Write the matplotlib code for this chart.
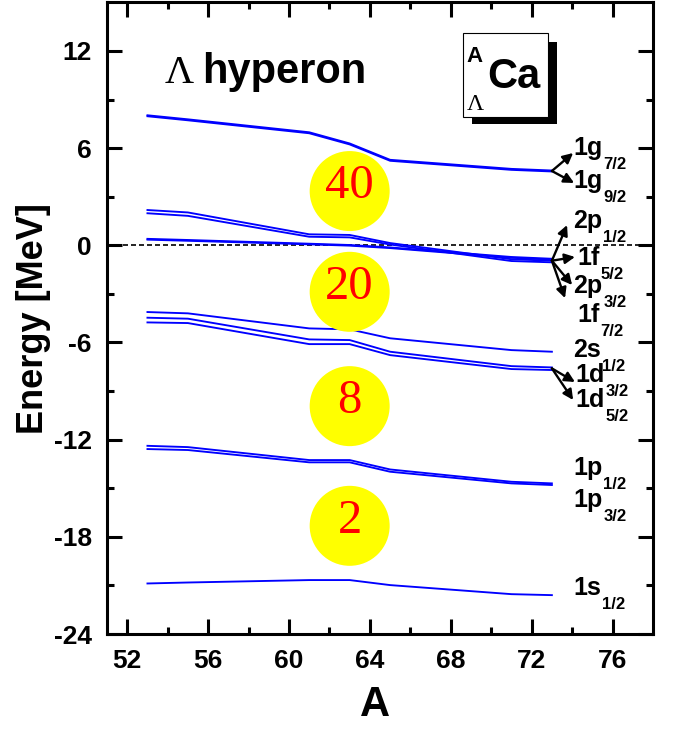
import matplotlib
matplotlib.use("Agg")
import matplotlib.pyplot as plt
from matplotlib.patches import Rectangle

plt.rcParams['font.family'] = ['Liberation Sans', 'DejaVu Sans']
plt.rcParams['font.weight'] = 'bold'

# ---------------- data ----------------
A = [53, 55, 61, 63, 65, 71, 73]

E_1g72 = [8.03, 7.78, 6.98, 6.29, 5.28, 4.72, 4.62]
E_1g92 = [7.97, 7.72, 6.92, 6.23, 5.22, 4.66, 4.56]
E_2p12 = [2.18, 2.03, 0.68, 0.64, 0.14, -0.86, -0.95]
E_2p32 = [1.98, 1.82, 0.53, 0.49, 0.05, -0.97, -1.05]
E_1f52 = [0.40, 0.33, 0.10, 0.02, -0.13, -0.72, -0.83]
E_1f72 = [0.35, 0.28, 0.06, -0.02, -0.17, -0.77, -0.88]
E_2s12 = [-4.12, -4.20, -5.13, -5.19, -5.74, -6.47, -6.57]
E_1d32 = [-4.47, -4.53, -5.81, -5.85, -6.57, -7.46, -7.54]
E_1d52 = [-4.76, -4.80, -6.10, -6.10, -6.78, -7.64, -7.70]
E_1p12 = [-12.38, -12.46, -13.26, -13.26, -13.84, -14.60, -14.70]
E_1p32 = [-12.58, -12.64, -13.40, -13.40, -13.98, -14.70, -14.80]
E_1s12 = [-20.88, -20.82, -20.67, -20.67, -20.98, -21.54, -21.60]

levels = [E_1g72, E_1g92, E_2p12, E_2p32, E_1f52, E_1f72,
          E_2s12, E_1d32, E_1d52, E_1p12, E_1p32, E_1s12]

magic_numbers = ['40', '20', '8', '2']
magic_A = [63, 63, 63, 63]
magic_E = [3.35, -2.87, -9.93, -17.32]

label_main = ['1g', '1g', '2p', '1f', '2p', '1f', '2s', '1d', '1d', '1p', '1p', '1s']
label_sub = ['7/2', '9/2', '1/2', '5/2', '3/2', '7/2', '1/2', '3/2', '5/2', '1/2', '3/2', '1/2']
# label anchor positions (layout)
label_x = [74.05, 74.05, 74.05, 74.25, 74.05, 74.25, 74.05, 74.15, 74.15, 74.05, 74.05, 74.05]
label_y = [5.58, 3.54, 1.07, -1.22, -2.95, -4.74, -6.92, -8.47, -10.01, -14.19, -16.17, -21.6]

xticks = [52, 56, 60, 64, 68, 72, 76]
yticks = [-24, -18, -12, -6, 0, 6, 12]

# ---------------- figure ----------------
fig = plt.figure(figsize=(6.74, 7.30), dpi=100)
ax = fig.add_axes([107/674, 1 - 634/730, 546/674, 631.6/730])

ax.axhline(0, color='black', lw=1.2, ls=(0, (3, 1.8)), zorder=1)

for E in levels:
    ax.plot(A, E, color='#0000ff', lw=1.35, zorder=2)

ax.scatter(magic_A, magic_E, s=3318, color='#ffff00', edgecolors='none', zorder=3)
for n, x, y in zip(magic_numbers, magic_A, magic_E):
    ax.text(x, y + 0.3, n, color='#ff0000', fontsize=35, fontweight='normal',
            family='Liberation Serif', ha='center', va='center', zorder=4)

# level labels with subscripts
for m, s, x, y in zip(label_main, label_sub, label_x, label_y):
    t = ax.text(x, y, m, fontsize=18, fontweight='bold', ha='left', va='baseline')
    ax.annotate(s, xy=(1, 0), xycoords=t, xytext=(1, -9), textcoords='offset pixels',
                fontsize=12, fontweight='bold', ha='left', va='baseline')

# arrows
def arrow(origin, tip):
    ax.annotate('', xy=tip, xytext=origin,
                arrowprops=dict(arrowstyle='-|>', color='black', lw=1.7,
                                mutation_scale=15, shrinkA=0, shrinkB=0))

o1 = (A[-1], E_1g72[-1] - 0.03)
arrow(o1, (74.05, 5.70))
arrow(o1, (74.1, 3.85))
o2 = (A[-1], -0.95)
arrow(o2, (73.75, 1.25))
arrow(o2, (74.14, -0.72))
arrow(o2, (74.0, -2.45))
arrow(o2, (73.65, -3.26))
o3 = (A[-1], -7.6)
arrow(o3, (74.14, -8.44))
arrow(o3, (74.05, -9.55))

# title
ax.text(0.106, 0.8724, 'Λ', transform=ax.transAxes, fontsize=29,
        family='Liberation Serif', fontweight='normal', ha='left', va='baseline')
ax.text(0.174, 0.8724, 'hyperon', transform=ax.transAxes, fontsize=30,
        fontweight='bold', ha='left', va='baseline')

# nucleus box with shadow
ax.add_patch(Rectangle((0.6685, 0.8075), 0.824 - 0.6685, 0.937 - 0.8075,
                       transform=ax.transAxes, facecolor='black', edgecolor='none', zorder=5))
ax.add_patch(Rectangle((0.652, 0.8186), 0.808 - 0.652, 0.9516 - 0.8186,
                       transform=ax.transAxes, facecolor='white', edgecolor='black',
                       lw=0.8, zorder=6))
ax.text(0.659, 0.9056, 'A', transform=ax.transAxes, fontsize=16, fontweight='bold',
        ha='left', va='baseline', zorder=7)
ax.text(0.696, 0.8645, 'Ca', transform=ax.transAxes, fontsize=30, fontweight='bold',
        ha='left', va='baseline', zorder=7)
ax.text(0.659, 0.8296, 'Λ', transform=ax.transAxes, fontsize=17, fontweight='normal',
        family='Liberation Serif', ha='left', va='baseline', zorder=7)

# axes
ax.set_xlim(51, 78)
ax.set_ylim(-24, 15)
ax.set_xticks(xticks)
ax.set_yticks(yticks)
ax.set_xticks(range(54, 78, 4), minor=True)
ax.set_yticks(range(-21, 15, 6), minor=True)
ax.set_xticklabels([str(v) for v in xticks])
ax.set_yticklabels([str(v) for v in yticks])
ax.tick_params(which='both', direction='in', top=True, right=True, width=2.2,
               labelsize=19, pad=11)
ax.tick_params(which='major', length=11)
ax.tick_params(which='minor', length=5)
for sp in ax.spines.values():
    sp.set_linewidth(2.2)

ax.set_xlabel('A', fontsize=30, fontweight='bold')
ax.set_ylabel('Energy [MeV]', fontsize=26, fontweight='bold')
ax.xaxis.set_label_coords(0.49, -0.08)
ax.yaxis.set_label_coords(-0.103, 0.5)

fig.savefig('out.png', dpi=100)
